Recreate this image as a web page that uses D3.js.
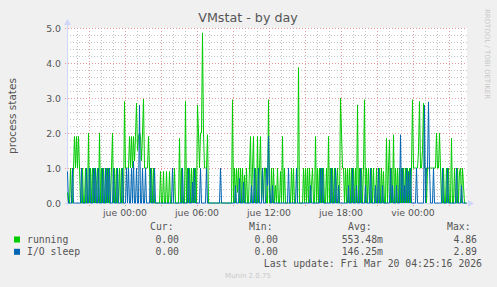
<!DOCTYPE html>
<html><head><meta charset="utf-8">
<script src="https://cdn.jsdelivr.net/npm/d3@7"></script>
<style>body{margin:0;background:#f0f0f0}svg{display:block}</style>
</head><body>
<svg id="c" width="497" height="287"></svg>
<script>
// ---- data (5-minute samples, 400 points) ----
const running = [
0.3,0,0,1,0,0,1,1.9,1,1.9, 1,1.9,1,0,0,1,0,0,1,0,
0,2,0,1,0,1,0,1,0,0.5, 1,0,2,0,1,0,1,0,0,1,
0,1,0,0,1,2,0,1,0,1, 0,0,1,0,1,0,0,2.9,1,1,
1,1,1.9,1,1.9,1,1.9,1.2,1.9,2.85, 1.5,1.9,2,1.9,1.2,2,2.97,1,1,1,
1,1.9,1,0,1,0,1,0,0,0, 0,0,0,0.9,0,0,0.9,0,0,0.9,
0,0,0.9,0,0,0,0,1,0,0, 0,0,1.85,0,1,0,0,0,2.9,0,
1,0,1,0,1,0,1,0,1,0, 2.8,2,1,2,2,4.86,2,1,1,1,
1.95,0,0,0,0,0,0,0,0,0, 0,0,0,0,0,0,0,0,0,0,
0,0,0,0,0,2.95,0,1,0,1, 0.3,1,0,1,0,1,0,0.8,0,1,
0,0,1,1.9,0,1,1.9,0,1,0, 1.9,0,1,1.9,0,1,0,1,1,0,
0,2.95,0,0,1,0,1,0,0.5,0, 1,0,0,0.9,0,1.9,0,1,0,0,
0,0,0,0,1,0,1,0,0,0, 0,3.87,0,0,0,0,1,0,1,0,
1,0,1,0,0.5,1,0,0,1.9,0, 1,0,1,0,1,0,1,0,0,1,
0,1.9,0,1,0,1,0,1,0,0.5, 1,0,0,3,2,1,1,0,1,0,
1,0,1,0,1,0,1,0,1,0, 2.8,0,1,0,1,0,1,2.95,0,1,
0,1,0,0,1,0,1,0,0,1, 0,0,1,0,1,0,0.9,0,0,1.85,
0,1,1.8,0,1,0,1.95,0,1,0, 1,0,1,0,1,0,1,0,1,0,
1,0,1,0,1,2.95,1,1,1,1, 1,1.5,2.9,1,1,1.5,2.85,1,1,0,
1,1,1,1,1,1,1,1,1,2, 1,1,2,1,0,0,1,0,0,1,
0,1,0,0,1.85,0,0,1,0,0, 1,0,0.9,1,0,1,0.5,0,0,0
];
const ioSleep = [
0.9,0,0,0,0,1,0,0,0,0, 0,0,0,0,1,0,0,0,0,1,
0,0,1,0,0,0,1,0,1,0, 0,1,0,0,0,1,0,0,1,0,
1,0,1,0,0,0,1,0,0,0, 1,0,0,0,0,1,0,0,0,1,
0,1,0,0,1,0,1.2,0,0,1, 0,0,2.8,0,0,1,0,0,1,0,
0,0,0,1,0,0,0,1,0,0, 0,0,0,0,0,0,0,0,0,0,
0,0,0,0,0,1,0,0,0,0, 0,0,0,0,0,1,0,0,0,0,
0,1,0,0,0,0.6,0,1,0,0, 0,0,0,1,0,0,0,0,0,1,
0,0,0,0,0,0,0,0,0,0, 0,0,0,1,0,0,0,0,0,0,
0,0,0,0,0,0,0,0,0.5,0, 0,0,0.7,0,0,0,0.6,0,0,0,
0,0,0,0,0.5,0,0,1,0,0, 0,1,0,0,0,1,0,0,0,1,
0.5,1.9,0.5,0,0,0.5,0,0,0,0, 0,0,0,0,0,0,0,0,0,0,
0,1,0,0,0,0,0,0,0,1, 0,0,0,0,0,0,0,0,0,0,
0,0,0,0.5,0,0,0,0,0,0, 0,0,0,1,0,1,0,0,0,0,
0,0,0,0,1,0,0,0,1,0, 0,0.5,0,0,0,0,0,0,0,0,
0,0.5,0,0,0,1,0,0,0,0.5, 0,0,0,1,0,0,0,0,0.5,0,
0,0,0,1,0,0,0,0,0.5,0, 0,1,0,0,0,0.5,0,0,0,0,
0,0,0,1,0,0.5,0,0,0,0.5, 0,0,0,1.95,0,1,0,0.5,0,1,
0,0.9,0,1,0,0,0,0,0,1, 0,0,0,0,0,0,0,2.8,0,1,
1,2.89,1,0,0,0,1,0,0,0, 0,0,0,0,0,1,0,0,0,0,
1,0,0,0,0,0,0,0,0,1, 0,0,0,0,0.5,0,0,0,0,0
];
const seriesNames = ["running", "I/O sleep"];
const curValues = ["0.00", "0.00"];
const minValues = ["0.00", "0.00"];
const avgValues = ["553.48m", "146.25m"];
const maxValues = ["4.86", "2.89"];
const yTicks = [0, 1, 2, 3, 4, 5];
const xLabelTimes = [Date.UTC(2026,2,19,0), Date.UTC(2026,2,19,6), Date.UTC(2026,2,19,12), Date.UTC(2026,2,19,18), Date.UTC(2026,2,20,0)];
const xLabels = ["jue 00:00", "jue 06:00", "jue 12:00", "jue 18:00", "vie 00:00"];
const endTime = Date.UTC(2026,2,20,4,30);
const stepMs = 300000;

// ---- layout ----
const svg = d3.select("#c");
const L = 67, R = 467, T = 28, B = 203;
const startTime = endTime - running.length * stepMs;
const x = d3.scaleUtc().domain([startTime, endTime]).range([L, R]);
const y = d3.scaleLinear().domain([0, 5]).range([B, T]);
const textCol = "#555";

svg.append("rect").attr("width", 497).attr("height", 287).attr("fill", "#f0f0f0");
svg.append("rect").attr("x", L).attr("y", T).attr("width", R - L).attr("height", B - T).attr("fill", "#fff");

// grid
const g = svg.append("g").attr("shape-rendering", "crispEdges");
const minorY = d3.range(0, 5.001, 0.2).filter(v => Math.abs(v - Math.round(v)) > 1e-6);
g.selectAll(".my").data(minorY).join("line")
  .attr("x1", L).attr("x2", R).attr("y1", d => Math.round(y(d)) + 0.5).attr("y2", d => Math.round(y(d)) + 0.5)
  .attr("stroke", "#c4c4c4").attr("stroke-dasharray", "1,2");
const hours = d3.utcHour.range(new Date(startTime), new Date(endTime));
g.selectAll(".mx").data(hours.filter(h => h.getUTCHours() % 3 !== 0)).join("line")
  .attr("x1", d => Math.round(x(d)) + 0.5).attr("x2", d => Math.round(x(d)) + 0.5).attr("y1", T).attr("y2", B)
  .attr("stroke", "#c4c4c4").attr("stroke-dasharray", "1,2");
const majorX = hours.filter(h => h.getUTCHours() % 3 === 0);
g.selectAll(".Mx").data(majorX).join("line")
  .attr("x1", d => Math.round(x(d)) + 0.5).attr("x2", d => Math.round(x(d)) + 0.5).attr("y1", T).attr("y2", B + 3)
  .attr("stroke", "#e89a9a").attr("stroke-dasharray", "1,2");
g.selectAll(".My").data(yTicks).join("line")
  .attr("x1", L - 2).attr("x2", R).attr("y1", d => Math.round(y(d)) + 0.5).attr("y2", d => Math.round(y(d)) + 0.5)
  .attr("stroke", "#e89a9a").attr("stroke-dasharray", "1,2");

// axes
const axisCol = "#cfd6f8";
svg.append("line").attr("x1", L + 0.5).attr("x2", L + 0.5).attr("y1", B + 2).attr("y2", T - 4).attr("stroke", axisCol);
svg.append("line").attr("x1", L - 2).attr("x2", R + 2).attr("y1", B + 0.5).attr("y2", B + 0.5).attr("stroke", axisCol);
svg.append("path").attr("d", `M${L - 3},${T - 3}L${L + 4},${T - 3}L${L + 0.5},${T - 9}Z`).attr("fill", axisCol);
svg.append("path").attr("d", `M${R + 1},${B - 3}L${R + 1},${B + 4}L${R + 7},${B + 0.5}Z`).attr("fill", axisCol);

// tick labels
svg.selectAll(".yl").data(yTicks).join("text")
  .attr("x", 61).attr("y", d => y(d) + 3.5).attr("text-anchor", "end")
  .attr("font-family", "DejaVu Sans").attr("font-size", 9.3).attr("fill", textCol)
  .text(d => d.toFixed(1));
svg.selectAll(".xl").data(xLabelTimes).join("text")
  .attr("x", d => x(d)).attr("y", 216).attr("text-anchor", "middle")
  .attr("font-family", "DejaVu Sans").attr("font-size", 9.3).attr("fill", textCol)
  .text((d, i) => xLabels[i]);

// data lines
const line = d3.line().x((d, i) => x(startTime + (i + 0.5) * stepMs)).y(d => y(d));
svg.append("path").datum(running).attr("d", line).attr("fill", "none").attr("stroke", "#00cc00").attr("stroke-width", 1);
svg.append("path").datum(ioSleep).attr("d", line).attr("fill", "none").attr("stroke", "#0066b3").attr("stroke-width", 1);

// titles
svg.append("text").attr("x", 248).attr("y", 22).attr("text-anchor", "middle")
  .attr("font-family", "DejaVu Sans").attr("font-size", 12.7).attr("fill", textCol).text("VMstat - by day");
svg.append("text").attr("transform", "translate(16,116) rotate(-90)").attr("text-anchor", "middle")
  .attr("font-family", "DejaVu Sans").attr("font-size", 10.5).attr("fill", textCol).text("process states");
svg.append("text").attr("transform", "translate(485,54) rotate(90)").attr("text-anchor", "middle")
  .attr("font-family", "DejaVu Sans").attr("font-size", 7).attr("fill", "#c8c8c8").text("RRDTOOL / TOBI OETIKER");

// legend
const mono = "DejaVu Sans Mono", fs = 9.8;
const hdr = [["Cur:", 150], ["Min:", 249], ["Avg:", 348], ["Max:", 447]];
hdr.forEach(([t, px]) => svg.append("text").attr("x", px).attr("y", 230).attr("font-family", mono).attr("font-size", fs).attr("fill", textCol).text(t));
const colors = ["#00cc00", "#0066b3"];
seriesNames.forEach((n, i) => {
  const by = 242.5 + i * 12.3;
  svg.append("rect").attr("x", 14).attr("y", by - 6).attr("width", 6).attr("height", 6).attr("fill", colors[i]);
  svg.append("text").attr("x", 27).attr("y", by).attr("font-family", mono).attr("font-size", fs).attr("fill", textCol).text(n);
  [[curValues, 179], [minValues, 278], [avgValues, 383], [maxValues, 477]].forEach(([arr, px]) =>
    svg.append("text").attr("x", px).attr("y", by).attr("text-anchor", "end").attr("font-family", mono).attr("font-size", fs).attr("fill", textCol).text(arr[i]));
});
svg.append("text").attr("x", 482).attr("y", 267).attr("text-anchor", "end").attr("font-family", mono).attr("font-size", fs).attr("fill", textCol)
  .text("Last update: Fri Mar 20 04:25:16 2026");
svg.append("text").attr("x", 248).attr("y", 278).attr("text-anchor", "middle").attr("font-family", "DejaVu Sans").attr("font-size", 7).attr("fill", "#c8c8c8")
  .text("Munin 2.0.75");
</script>
</body></html>
